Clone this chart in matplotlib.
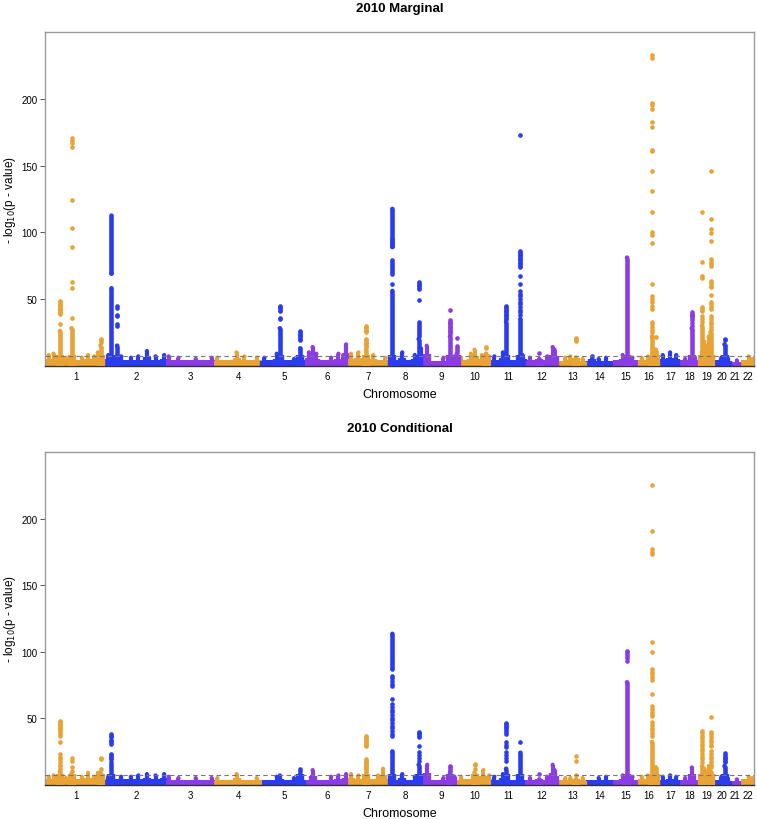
import numpy as np
import matplotlib.pyplot as plt

plt.rcParams['font.family'] = ['Liberation Sans', 'DejaVu Sans']

CHROM_LEN = [249.3, 243.2, 198.0, 191.2, 180.9, 171.1, 159.1, 146.4, 141.2, 135.5, 135.0,
             133.9, 115.2, 107.3, 102.5, 90.4, 81.2, 78.1, 59.1, 63.0, 48.1, 51.3]
CHROM_LABELS = [str(i) for i in range(1, 23)]
PALETTE = ['#E8A334', '#2B3CF0', '#8C3CE6']
THRESHOLD = 7.3

# ---------------- 2010 Marginal ----------------
marg_band = [4.5, 4.5, 4, 4, 4, 4, 4.5, 4, 3.5, 4, 4, 4, 3.5, 3.5, 4, 4, 4, 4, 4.5, 4, 3, 4]

marg_bump_chr = [1, 1, 1, 1, 1, 1, 1, 2, 2, 2, 2, 2, 2, 2, 3, 3, 3, 3, 4, 4, 4, 4, 5, 5, 5,
                 6, 6, 6, 6, 6, 6, 6, 7, 7, 7, 7, 8, 8, 8, 9, 9, 9, 10, 10, 10, 10, 10,
                 11, 11, 11, 12, 12, 12, 12, 13, 13, 13, 14, 14, 15, 15, 16, 16, 17, 17, 17,
                 18, 18, 19, 19, 19, 20, 20, 21, 22, 22]
marg_bump_pos = [15, 35, 85, 150, 175, 200, 215, 8, 60, 100, 130, 165, 200, 235, 10, 50, 120, 185,
                 10, 88, 120, 170, 10, 60, 130, 10, 25, 40, 100, 130, 150, 161, 10, 40, 100, 150,
                 59, 110, 135, 12, 80, 125, 10, 50, 65, 95, 125, 10, 45, 125, 20, 90, 112, 120,
                 30, 50, 100, 50, 80, 40, 80, 15, 40, 10, 40, 65, 20, 60, 20, 30, 38, 30, 55,
                 30, 30, 45]
marg_bump_top = [8, 9, 6, 6, 8, 7, 10, 8, 7, 6, 7, 11, 7, 8, 7, 6, 5, 6, 6, 10, 7, 6, 6, 9, 5,
                 10, 14, 9, 6, 9, 8, 16, 9, 10, 8, 6, 10, 8, 13, 15, 6, 7, 6, 9, 12, 8, 7,
                 7, 10, 8, 6, 7, 14, 12, 6, 7, 5, 5, 6, 8, 6, 6, 7, 8, 10, 8, 5, 6, 18, 15,
                 22, 6, 6, 4, 7, 5]

marg_loc_chr = [1, 1, 1, 2, 2, 2, 5, 5, 7, 8, 8, 8, 9, 9, 10, 11, 11, 12, 13, 14, 15, 16, 16,
                18, 19, 19, 20]
marg_loc_pos = [61, 108, 226, 21, 21, 44, 73, 156, 72, 19, 19, 126, 107, 135, 112, 58, 116, 58,
                73, 23, 58, 57, 72, 47, 11, 45, 43]
marg_loc_lo = [0, 0, 0, 0, 69, 0, 0, 0, 0, 0, 89, 0, 0, 0, 0, 0, 0, 0, 0, 0, 0, 0, 0, 0, 0, 0, 0]
marg_loc_hi = [26, 28, 15, 58, 112.5, 15, 28, 13, 12, 56, 117.5, 20, 22, 9, 9, 33, 35, 5, 6, 5,
               81, 22, 12, 28, 30, 25, 16]
marg_loc_pts = [
    [48.5, 47.5, 46.5, 45.5, 44.5, 43.5, 42.5, 41.5, 40.5, 39.5, 38.8, 31],
    [170.6, 168.8, 166.8, 163.8, 124.3, 103, 89, 62.5, 58.5, 35.8],
    [20, 19, 18],
    [],
    [],
    [45, 43.5, 38, 37, 31, 30],
    [45, 44, 43, 42, 41, 36, 35],
    [26, 25, 24, 23, 22, 21, 20, 19],
    [30, 29, 28, 27, 26, 25, 20, 19, 18, 17, 16, 15, 14],
    [95, 93, 91.5, 90, 79, 77.5, 76, 74.5, 73, 71.5, 70, 68.5, 61],
    [],
    [62.5, 61.5, 60.5, 59.5, 58.5, 57.5, 49, 33, 31.5, 30, 28.5, 27, 25.5, 24, 22.5],
    [41.8, 34, 33, 32, 31, 30, 29, 28, 27, 26, 25, 24],
    [21, 15, 13.5, 12, 10.5],
    [13.8, 13],
    [44.8, 44, 43, 42, 41, 40, 39, 38, 37, 36, 35],
    [173.3, 86, 85, 84, 83, 82, 81, 80, 79, 78, 77, 76, 75, 74, 67.5, 61, 56, 54, 52, 50,
     48, 46, 44, 42, 40, 38],
    [9.3],
    [20.8, 19.5, 18.3],
    [7.5],
    [],
    [233, 231, 196.8, 195.6, 192.6, 183, 179.3, 161.8, 160.8, 145.8, 130.8, 115, 100, 98, 92,
     61.3, 52.5, 50, 47.5, 45, 42.5, 33, 31, 29, 27, 25, 22.5],
    [21.8],
    [40, 39, 38, 37, 36, 34, 32, 30],
    [115, 78, 67.5, 65.5, 43.8, 42.5, 41, 37.5, 35, 33],
    [145.8, 110, 102.5, 99.3, 93.8, 80, 78, 76, 75, 63.8, 62, 60, 58.8, 53, 47.5, 46, 44,
     42.5, 37.5, 35, 33, 31, 29, 27],
    [20, 19],
]

# ---------------- 2010 Conditional ----------------
cond_band = [4, 4, 3.5, 3.5, 3.5, 3.5, 4, 3.5, 3.5, 4, 3.5, 3.5, 3.5, 3.5, 3.5, 4, 3.5, 3.5, 4, 3.5, 3, 4]

cond_bump_chr = [1, 1, 1, 1, 1, 1, 1, 2, 2, 2, 2, 2, 2, 2, 3, 3, 3, 3, 4, 4, 4, 5, 5, 5,
                 6, 6, 6, 6, 7, 7, 7, 7, 8, 8, 9, 9, 9, 10, 10, 10, 11, 11,
                 12, 12, 12, 12, 13, 13, 13, 14, 14, 15, 15, 16, 16, 17, 17, 17,
                 18, 18, 19, 19, 19, 20, 20, 21, 22, 22]
cond_bump_pos = [15, 35, 85, 150, 175, 200, 215, 8, 60, 100, 130, 165, 200, 235, 10, 50, 120, 185,
                 10, 88, 170, 60, 73, 130, 25, 100, 130, 161, 10, 40, 120, 140, 59, 110, 14, 80,
                 125, 10, 101, 125, 10, 45, 20, 90, 112, 120, 30, 50, 100, 50, 80, 40, 80, 15,
                 40, 10, 40, 65, 20, 47, 20, 30, 38, 30, 55, 30, 30, 45]
cond_bump_top = [6, 7, 5, 6, 9, 6, 9, 6, 6, 6, 7, 8, 7, 8, 6, 5, 5, 5, 5, 8, 5, 6, 7, 5,
                 11, 6, 7, 8, 8, 7, 7, 12, 8, 6, 15, 5, 6, 6, 11, 7, 6, 8,
                 5, 6, 15, 11, 5, 5, 5, 5, 6, 7, 6, 6, 7, 6, 7, 6, 5, 13, 12, 10, 14, 6, 5,
                 4, 6, 5]

cond_loc_chr = [1, 1, 1, 2, 5, 7, 8, 8, 8, 9, 10, 11, 11, 12, 13, 15, 16, 16, 19, 19, 20]
cond_loc_pos = [61, 108, 226, 21, 156, 72, 19, 19, 126, 107, 65, 58, 116, 58, 73, 58, 57, 72,
                11, 45, 43]
cond_loc_lo = [0, 0, 0, 0, 0, 0, 0, 87, 0, 0, 0, 0, 0, 0, 0, 0, 0, 0, 0, 0, 0]
cond_loc_hi = [10, 8, 9, 15, 8, 13, 25, 113.4, 15, 9, 9, 12, 24, 4, 4, 77, 32, 13, 14, 10, 14]
cond_loc_pts = [
    [48, 47, 46, 45, 44, 43, 42, 41, 40, 38, 37, 32, 23, 21, 19, 17, 15, 14, 12],
    [19.8, 18, 13, 10.5],
    [19.8, 19, 12],
    [38.5, 37, 36, 34, 33, 32, 31, 23, 22, 21, 20, 19, 17],
    [11.5, 10.5],
    [37, 36, 35, 34, 33, 32, 31, 30, 29, 19.4, 18, 17, 16, 15, 14],
    [82, 80, 78, 76, 74.5, 64.5, 60.7, 58.5, 56.5, 54.5, 52.5, 50.5, 48.5, 46.5, 44.5, 42.5,
     40.5, 38.5, 37],
    [],
    [40, 39, 38, 37, 36, 29.3, 24.4, 22, 20, 18],
    [14, 13, 12, 10.5],
    [15.6, 14.5, 12],
    [46.4, 45.5, 44.5, 43.5, 42.5, 41.5, 40, 38.1, 31.9, 30, 28.1, 24.4, 22, 20, 18],
    [32.4],
    [8],
    [21.3, 18, 7.5],
    [100.8, 99.5, 98, 96.5, 95, 93.3],
    [225.5, 191.1, 177.3, 175.3, 173.6, 107.6, 100, 87, 85, 83, 81, 79, 68.2, 59, 57, 55, 53,
     52, 47, 45, 43, 41, 39, 37],
    [],
    [40.6, 39, 37, 35, 33, 31, 29, 27, 25, 23, 21, 19, 17],
    [50.7, 39.4, 38, 36, 34, 32, 30, 29.3, 25, 23, 21, 19, 17, 15, 13],
    [23.6, 22, 21, 20, 19, 18, 17],
]


offsets = np.concatenate([[0], np.cumsum(CHROM_LEN)[:-1]])
total_len = float(np.sum(CHROM_LEN))


def chrom_colour(c):
    return PALETTE[(c - 1) % 3]


def draw_panel(ax, title, band, bump_chr, bump_pos, bump_top,
               loc_chr, loc_pos, loc_lo, loc_hi, loc_pts):
    # low-level background band
    ax.bar(offsets, band, width=CHROM_LEN, align='edge', linewidth=0,
           color=[chrom_colour(c) for c in range(1, 23)], zorder=1)

    # small sub-threshold mounds
    bx = [offsets[c - 1] + p for c, p in zip(bump_chr, bump_pos)]
    bcol = [chrom_colour(c) for c in bump_chr]
    ax.vlines(bx, 0, [t * 0.6 for t in bump_top], colors=bcol, linewidth=6, zorder=2)
    ax.vlines(bx, 0, bump_top, colors=bcol, linewidth=3, zorder=2)
    ax.scatter(bx, bump_top, s=9, c=bcol, linewidths=0, zorder=2)

    # dense columns of the associated loci
    lx = [offsets[c - 1] + p for c, p in zip(loc_chr, loc_pos)]
    lcol = [chrom_colour(c) for c in loc_chr]
    ax.vlines(lx, loc_lo, loc_hi, colors=lcol, linewidth=3.3, zorder=3)
    ax.vlines(lx, loc_lo, [min(h, 8) if lo == 0 else lo for h, lo in zip(loc_hi, loc_lo)],
              colors=lcol, linewidth=6, zorder=3)
    ax.scatter(lx, loc_hi, s=11, c=lcol, linewidths=0, zorder=4)
    ax.scatter([x for x, lo in zip(lx, loc_lo) if lo > 0],
               [lo for lo in loc_lo if lo > 0], s=11,
               c=[c for c, lo in zip(lcol, loc_lo) if lo > 0], linewidths=0, zorder=4)

    # individual strong SNPs
    for x, col, pts in zip(lx, lcol, loc_pts):
        if pts:
            ax.scatter([x] * len(pts), pts, s=11, color=col, linewidths=0, zorder=4)

    ax.axhline(THRESHOLD, color='#777777', linestyle=(0, (4, 3)), linewidth=0.8, zorder=5)

    ax.set_xlim(0, total_len)
    ax.set_ylim(0, 250)
    ax.set_yticks([50, 100, 150, 200])
    ax.set_xticks(offsets + np.array(CHROM_LEN) / 2)
    ax.set_xticklabels(CHROM_LABELS)
    ax.tick_params(axis='x', length=0, pad=4, labelsize=7)
    ax.tick_params(axis='y', length=3.5, width=0.7, color='#555555', pad=2, labelsize=7)
    for side in ['left', 'top', 'right']:
        ax.spines[side].set_color('#999999')
        ax.spines[side].set_linewidth(1.0)
    ax.spines['bottom'].set_color('#333333')
    ax.spines['bottom'].set_linewidth(1.0)

    ax.set_title(title, fontsize=9.5, fontweight='bold', pad=15)
    ax.set_xlabel('Chromosome', fontsize=9, labelpad=5)
    ax.set_ylabel('- log$_{10}$(p - value)', fontsize=8.5)
    ax.yaxis.set_label_coords(-0.038, 0.5)


fig = plt.figure(figsize=(7.57, 8.2), dpi=100)
ax1 = fig.add_axes([0.0594, 0.5528, 0.9366, 0.4066])
ax2 = fig.add_axes([0.0594, 0.0418, 0.9366, 0.4054])

draw_panel(ax1, '2010 Marginal', marg_band, marg_bump_chr, marg_bump_pos, marg_bump_top,
           marg_loc_chr, marg_loc_pos, marg_loc_lo, marg_loc_hi, marg_loc_pts)
draw_panel(ax2, '2010 Conditional', cond_band, cond_bump_chr, cond_bump_pos, cond_bump_top,
           cond_loc_chr, cond_loc_pos, cond_loc_lo, cond_loc_hi, cond_loc_pts)

fig.savefig('out.png', dpi=100)
